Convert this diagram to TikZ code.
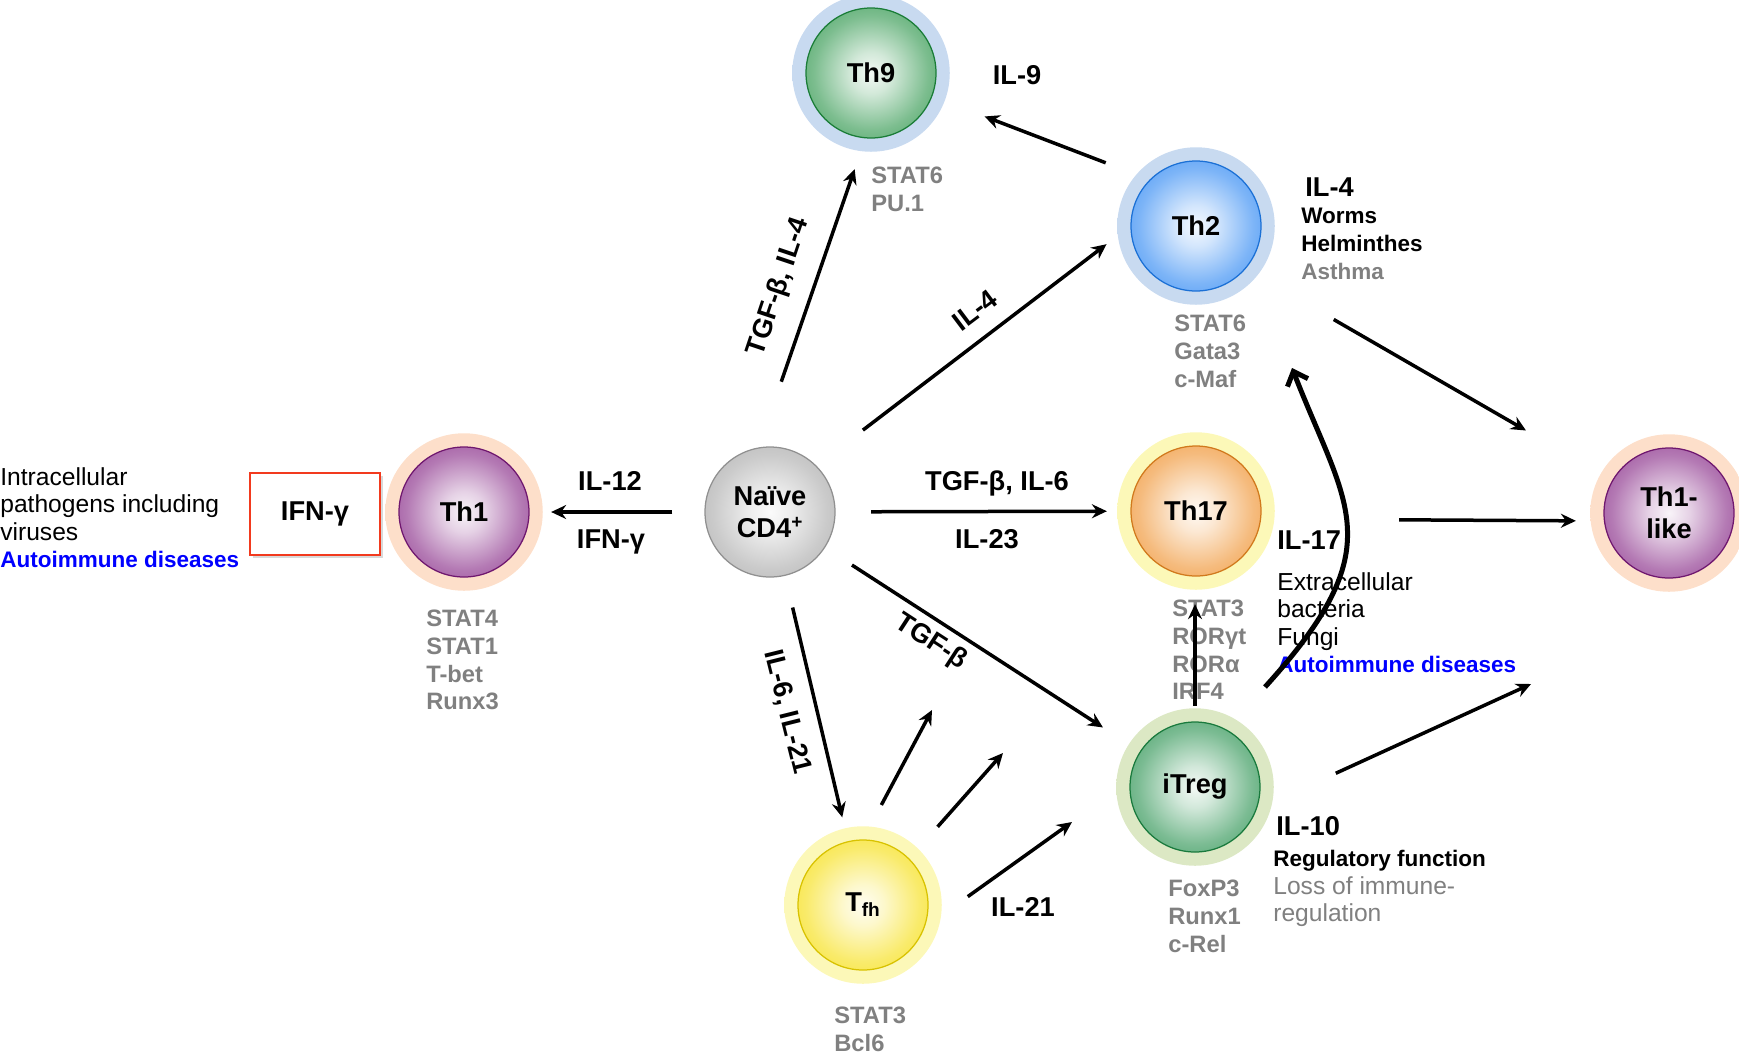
\documentclass[tikz,border=0pt]{standalone}
\usepackage{fontspec}
\setmainfont{Liberation Sans}
\usepackage{xcolor}
\usepackage{tikz}
\usetikzlibrary{arrows.meta,positioning,calc,shadows}

\definecolor{th9col}{HTML}{1E8E3E}
\definecolor{th2col}{HTML}{1F7FF2}
\definecolor{naivecol}{HTML}{A4A4A4}
\definecolor{th1col}{HTML}{7E1A7E}
\definecolor{th17col}{HTML}{EE8A20}
\definecolor{tregcol}{HTML}{1C8B45}
\definecolor{tfhcol}{HTML}{F5DC00}
\definecolor{blueglow}{HTML}{C8DAF0}
\definecolor{peachglow}{HTML}{FDDFCA}
\definecolor{yellowglow}{HTML}{FCF8B8}
\definecolor{greenglow}{HTML}{DCE8C4}
\definecolor{markgray}{HTML}{808080}
\definecolor{boxred}{HTML}{F23A1E}

\colorlet{cellcol}{gray}
\colorlet{glowcol}{white}
\pgfdeclareradialshading[cellcol]{cellshade}{\pgfpoint{0bp}{0bp}}{%
  color(0bp)=(cellcol!5!white); color(8bp)=(cellcol!20!white);
  color(22bp)=(cellcol!58!white); color(38bp)=(cellcol!88!white);
  color(50bp)=(cellcol)}
\pgfdeclareradialshading[glowcol]{glowshade}{\pgfpoint{0bp}{0bp}}{%
  color(0bp)=(glowcol); color(41bp)=(glowcol); color(46bp)=(glowcol!45!white);
  color(50bp)=(white)}

\newcommand{\bigtxt}{\fontsize{15.5}{18.2}\selectfont\bfseries}
\newcommand{\smalltxt}{\fontsize{14}{15.7}\selectfont}
\newcommand{\boldtxt}{\fontsize{12.8}{15.7}\selectfont\bfseries}

\begin{document}
\begin{tikzpicture}[x=0.2mm, y=-0.2mm,
    glow/.style={circle, minimum size=31.5mm, inner sep=0pt, shading=glowshade, /utils/exec={\colorlet{glowcol}{#1}}},
    cell/.style={circle, minimum size=26mm, inner sep=0pt, draw=#1!88!black, line width=0.25mm, shading=cellshade, /utils/exec={\colorlet{cellcol}{#1}}, font=\bigtxt, align=center},
    lbl/.style={font=\bigtxt, inner sep=0pt},
    info/.style={anchor=north west, inner sep=0pt, align=left, font=\smalltxt},
    factors/.style={info, text=markgray, font=\fontsize{13.5}{15.7}\selectfont\bfseries},
    cytobox/.style={draw=boxred, line width=0.5mm, fill=white, minimum width=26mm, minimum height=16.4mm, drop shadow={shadow xshift=0.6mm, shadow yshift=-0.6mm, opacity=0.3}},
    arr/.style={-{Stealth[length=3mm, width=2.8mm, inset=1mm]}, line width=0.7mm},
    swing/.style={-{Straight Barb[length=2.4mm, width=4.4mm]}, line width=1mm},
]
    \useasboundingbox (0,0) rectangle (1739,1056);

    % Glows
    \node[glow=blueglow] (th9-glow) at (871,73) {};
    \node[glow=blueglow] (th2-glow) at (1196,226) {};
    \node[glow=peachglow] (th1-glow) at (464,512) {};
    \node[glow=yellowglow] (th17-glow) at (1196,511) {};
    \node[glow=peachglow] (th1like-glow) at (1669,513) {};
    \node[glow=greenglow] (itreg-glow) at (1195,787) {};
    \node[glow=yellowglow] (tfh-glow) at (863,905) {};

    % Cells
    \node[cell=th9col] (th9) at (871,73) {Th9};
    \node[cell=th2col] (th2) at (1196,226) {Th2};
    \node[cell=naivecol] (naive) at (770,512) {Naïve\\CD4\textsuperscript{+}};
    \node[cell=th1col] (th1) at (464,512) {Th1};
    \node[cell=th17col] (th17) at (1196,511) {Th17};
    \node[cell=th1col] (th1like) at (1669,513) {Th1-\\like};
    \node[cell=tregcol] (itreg) at (1195,787) {iTreg};
    \node[cell=tfhcol] (tfh) at (863,905) {T\textsubscript{fh}};

    % Th1 side
    \node[cytobox, font=\bigtxt] (ifng) at (315,514) {IFN-γ};
    \node[info] (th1-info) at (0,467) {Intracellular\\pathogens including\\viruses\\\textcolor{blue}{\boldtxt Autoimmune diseases}};
    \node[factors] (th1-tf) at (426,610) {STAT4\\STAT1\\T-bet\\Runx3};

    % Th9 / Th2
    \node[factors] (th9-tf) at (871,167) {STAT6\\PU.1};
    \node[lbl] (il9) at (1017,75) {IL-9};
    \node[lbl, anchor=west] (th2-il) at (1305,187) {IL-4};
    \node[info, font=\boldtxt] (th2-info) at (1301,208) {Worms\\Helminthes\\\textcolor{markgray}{Asthma}};
    \node[factors] (th2-tf) at (1174,315) {STAT6\\Gata3\\c-Maf};

    % Th17
    \node[lbl, anchor=west] (th17-il) at (1277,540) {IL-17};
    \node[info] (th17-info) at (1277,572) {Extracellular\\bacteria\\Fungi\\\textcolor{blue}{\boldtxt Autoimmune diseases}};
    \node[factors] (th17-tf) at (1172,600) {STAT3\\RORγt\\RORα\\IRF4};

    % iTreg and Tfh
    \node[lbl, anchor=west] (itreg-il) at (1276,826) {IL-10};
    \node[info] (itreg-info) at (1273,850) {{\boldtxt Regulatory function}\\\textcolor{markgray}{Loss of immune-}\\\textcolor{markgray}{regulation}};
    \node[factors] (itreg-tf) at (1168,880) {FoxP3\\Runx1\\c-Rel};
    \node[factors] (tfh-tf) at (834,1007) {STAT3\\Bcl6};
    \node[lbl] (il21) at (1023,907) {IL-21};

    % Arrow labels
    \node[lbl, anchor=base] (il12) at (610,490) {IL-12};
    \node[lbl, anchor=base] (ifng-lbl) at (611,548) {IFN-γ};
    \node[lbl, rotate=71.5] (th9-lbl) at (779,287) {TGF-β, IL-4};
    \node[lbl, rotate=37] (th2-lbl) at (975,310) {IL-4};
    \node[lbl, anchor=base] (th17-lbl) at (997,490) {TGF-β, IL-6};
    \node[lbl, anchor=base] (il23) at (987,548) {IL-23};
    \node[lbl, rotate=-33] (itreg-lbl) at (931,642) {TGF-β};
    \node[lbl, rotate=-76] (tfh-lbl) at (787,712) {IL-6, IL-21};

    % Free arrow ends
    \coordinate (tfh-out1) at (932,710);
    \coordinate (tfh-out2) at (1003,753);
    \coordinate (tfh-out3) at (1072,822);
    \coordinate (treg-out) at (1531,684);
    \coordinate (swing-tail) at (1265,687);
    \coordinate (swing-head) at (1292,368);

    % Arrows
    \draw[arr, shorten <=6.4mm, shorten >=4.3mm] (naive) -- (th1);
    \draw[arr, shorten <=13.9mm, shorten >=6.5mm] (naive.100) -- (th9.265);
    \draw[arr, shorten <=11.7mm, shorten >=6mm] (naive.45) -- (th2.west);
    \draw[arr, shorten <=7.1mm, shorten >=4.7mm] (naive) -- (th17);
    \draw[arr, shorten <=6.4mm, shorten >=8.8mm] (naive) -- (itreg);
    \draw[arr, shorten <=6.5mm, shorten >=4.9mm] (naive) -- (tfh);
    \draw[arr, shorten <=9.4mm, shorten >=11.2mm] (th2.north west) -- (th9);
    \draw[arr, shorten <=31.8mm, shorten >=19.9mm] ([yshift=-2.8mm]th2.center) -- (th1like);
    \draw[arr, shorten <=27.5mm, shorten >=5.5mm] ([yshift=-1.6mm]th17.east) -- ([yshift=-1.6mm]th1like.west);
    \draw[arr, shorten <=17.4mm] (itreg.-20) -- (treg-out);
    \draw[arr, shorten <=3.1mm, shorten >=5.5mm] (itreg.north) -- (itreg.north |- th17.south);
    \draw[arr, shorten <=7.8mm] (tfh.north) -- (tfh-out1);
    \draw[arr, shorten <=8.5mm] (tfh.north east) -- (tfh-out2);
    \draw[arr, shorten <=10.6mm] (tfh.-20) -- (tfh-out3);
    \draw[swing] (swing-tail) .. controls (1393,546) and (1347,509) .. (swing-head);
\end{tikzpicture}
\end{document}
